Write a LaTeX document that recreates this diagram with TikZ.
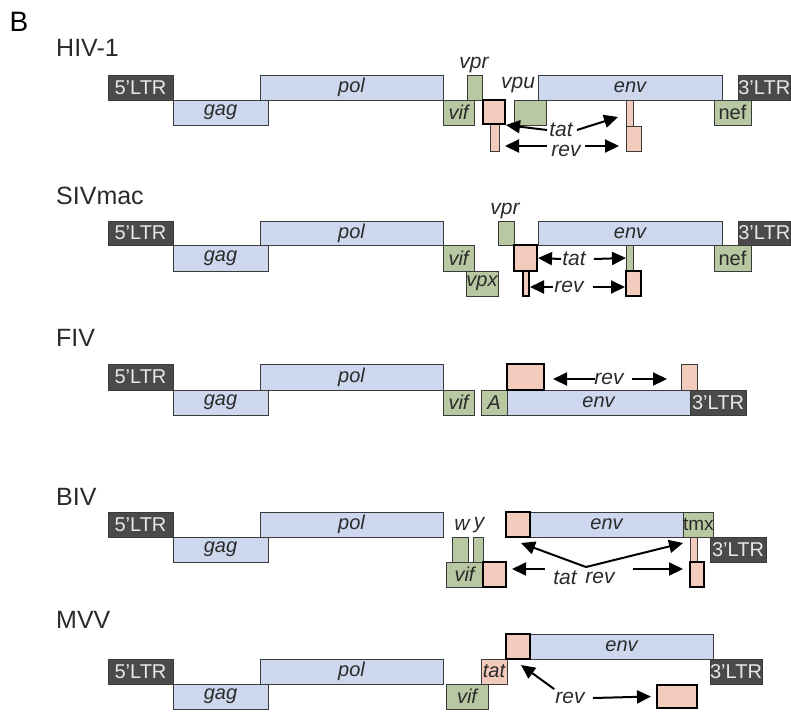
\documentclass[tikz,border=0pt]{standalone}
\usepackage{fontspec}
\setmainfont{Liberation Sans}
\usetikzlibrary{arrows.meta}
\definecolor{ltrgray}{HTML}{4A4A4A}
\definecolor{ltrtext}{HTML}{E8E8E8}
\definecolor{blu}{HTML}{CDD8EE}
\definecolor{grn}{HTML}{B8C8A2}
\definecolor{pnk}{HTML}{F3CBBD}
\definecolor{bord}{HTML}{3A3A3A}
\definecolor{txt}{HTML}{2A2A2A}
\newcommand\gb[7]{\node[#2, anchor=north west, minimum width={#5-#3}, minimum height={#6-#4}] (#1) at (#3,#4) {#7};}
\begin{document}
\begin{tikzpicture}[x=1pt,y=-1pt,
  gbase/.style={inner sep=0pt, outer sep=0pt, draw=bord, line width=0.8pt, text=txt,
    font=\fontsize{20}{20}\selectfont},
  ltrbox/.style={gbase, fill=ltrgray, text=ltrtext},
  blubox/.style={gbase, fill=blu, font=\fontsize{20}{20}\selectfont\itshape},
  grnbox/.style={gbase, fill=grn, font=\fontsize{20}{20}\selectfont\itshape},
  grnup/.style={gbase, fill=grn},
  pnkbox/.style={gbase, fill=pnk, font=\fontsize{20}{20}\selectfont\itshape},
  pnkthick/.style={gbase, fill=pnk, draw=black, line width=1.8pt},
  lbl/.style={inner sep=0pt, text=txt, font=\fontsize{21}{21}\selectfont\itshape},
  title/.style={anchor=west, inner sep=0pt, text=txt, font=\fontsize{25}{25}\selectfont},
  arr/.style={-{Triangle[length=14pt,width=13pt]}, line width=2pt, black}
]
\useasboundingbox (0,0) rectangle (791,713);
\node[inner sep=0pt, font=\fontsize{28}{28}\selectfont, text=black] (B) at (19,22) {B};

% ---------------- HIV-1
\node[title] (tHIV) at (56,48) {HIV-1};
\gb{h5}{ltrbox}{108}{75}{173}{100}{5’LTR}
\gb{hgag}{blubox}{173}{100}{268}{125}{gag}
\gb{hpol}{blubox}{260}{75}{443}{100}{pol}
\gb{hvif}{grnbox}{443}{100}{474}{125}{vif}
\gb{hvpr}{grnbox}{467}{75}{482}{100}{}
\gb{hvpu}{grnbox}{514}{100}{546}{125}{}
\gb{henv}{blubox}{538}{75}{722}{100}{env}
\gb{hnef}{grnup}{714}{100}{751}{125}{nef}
\gb{h3}{ltrbox}{738}{75}{790.5}{100}{3’LTR}
\gb{hrev1}{pnkbox}{490}{124}{499}{151}{}
\gb{htat2}{pnkbox}{626}{100}{633}{126}{}
\gb{hrev2}{pnkbox}{626}{126}{641}{151}{}
\gb{htat1}{pnkthick}{483}{100}{505}{124}{}
\node[lbl] (hvprl) at (474,65) {vpr};
\node[lbl] (hvpul) at (518,85) {vpu};
\node[lbl] (htatl) at (561,130) {tat};
\node[lbl] (hrevl) at (566,151) {rev};
\coordinate (hta) at (618,117);
\coordinate (hra) at (619,146);
\coordinate (hrb) at (505,146);
\draw[arr] ([xshift=-14pt]htatl.center) -- ([xshift=1pt,yshift=-1pt]htat1.south east);
\draw[arr] ([xshift=16pt]htatl.center) -- (hta);
\draw[arr] ([xshift=-4pt]hrevl.west |- hrb) -- (hrb);
\draw[arr] ([xshift=4pt]hrevl.east |- hra) -- (hra);

% ---------------- SIVmac
\node[title] (tSIV) at (56,196) {SIVmac};
\gb{s5}{ltrbox}{108}{221}{173}{245}{5’LTR}
\gb{sgag}{blubox}{173}{245}{268}{271}{gag}
\gb{spol}{blubox}{260}{221}{443}{245}{pol}
\gb{svif}{grnbox}{443}{245}{474}{271}{vif}
\gb{svpx}{grnbox}{466}{271}{498}{296}{vpx}
\gb{svpr}{grnbox}{498}{221}{514}{245}{}
\gb{senv}{blubox}{538}{221}{722}{245}{env}
\gb{snef}{grnup}{714}{245}{751}{271}{nef}
\gb{s3}{ltrbox}{738}{221}{790.5}{245}{3’LTR}
\gb{stat2}{grnbox}{626}{245}{633}{271}{}
\gb{stat1}{pnkthick}{514}{245}{537}{271}{}
\gb{srev1}{pnkthick}{523}{271}{529}{296}{}
\gb{srev2}{pnkthick}{626}{271}{641}{296}{}
\node[lbl] (svprl) at (505,211) {vpr};
\node[lbl] (statl) at (574,259) {tat};
\node[lbl] (srevl) at (569,287) {rev};
\draw[arr] ([xshift=-1pt]statl.west) -- ([xshift=1pt]stat1.east);
\draw[arr] ([xshift=8pt]statl.east) -- (stat2.west);
\draw[arr] ([xshift=-1pt]srevl.west) -- ([xshift=1pt]srevl.west -| srev1.east);
\draw[arr] ([xshift=9pt]srevl.east) -- ([xshift=-1pt]srevl.east -| srev2.west);

% ---------------- FIV
\node[title] (tFIV) at (56,338) {FIV};
\gb{f5}{ltrbox}{108}{364}{173}{390}{5’LTR}
\gb{fgag}{blubox}{173}{390}{268}{415}{gag}
\gb{fpol}{blubox}{260}{364}{443}{390}{pol}
\gb{fvif}{grnbox}{443}{390}{474}{415}{vif}
\gb{fA}{grnbox}{481}{390}{507}{415}{A}
\gb{fenv}{blubox}{507}{390}{690}{415}{env}
\gb{f3}{ltrbox}{690}{390}{746}{415}{3’LTR}
\gb{frev2}{pnkbox}{681}{364}{697}{390}{}
\gb{frev1}{pnkthick}{507}{364}{544}{390}{}
\node[lbl] (frevl) at (609,379) {rev};
\draw[arr] ([xshift=1pt]frevl.west) -- ([xshift=9pt]frevl.west -| frev1.east);
\draw[arr] ([xshift=8pt]frevl.east) -- ([xshift=-14pt]frevl.east -| frev2.west);

% ---------------- BIV
\node[title] (tBIV) at (56,497) {BIV};
\gb{b5}{ltrbox}{108}{512}{173}{537}{5’LTR}
\gb{bgag}{blubox}{173}{537}{268}{562}{gag}
\gb{bpol}{blubox}{260}{512}{443}{537}{pol}
\gb{bw}{grnbox}{452}{537}{468}{562}{}
\gb{by}{grnbox}{473}{537}{483}{562}{}
\gb{bvif}{grnbox}{446}{562}{483}{587}{vif}
\gb{benv}{blubox}{530}{512}{683}{537}{env}
\gb{btmx}{grnup}{683}{512}{713}{537}{\fontsize{19}{19}\selectfont tmx}
\gb{b3}{ltrbox}{710}{537}{766}{562}{3’LTR}
\gb{bp2}{pnkbox}{690}{537}{697}{562}{}
\gb{bp1}{pnkthick}{483}{562}{506}{587}{}
\gb{bp0}{pnkthick}{506}{512}{530}{537}{}
\gb{bp3}{pnkthick}{690}{562}{704}{587}{}
\node[lbl] (bwl) at (462,525) {w};
\node[lbl] (byl) at (479,525) {y};
\node[lbl] (btatl) at (565,578) {tat};
\node[lbl] (brevl) at (600,578) {rev};
\coordinate (bapex) at (586,567);
\coordinate (bvl) at (521,543);
\coordinate (bvr) at (683,543);
\coordinate (bhl) at (512,569);
\coordinate (bhr) at (683,569);
\draw[arr] (bapex) -- (bvl);
\draw[arr] (bapex) -- (bvr);
\draw[arr] (545,569) -- (bhl);
\draw[arr] (633,569) -- (bhr);

% ---------------- MVV
\node[title] (tMVV) at (56,620) {MVV};
\gb{m5}{ltrbox}{108}{659}{173}{684}{5’LTR}
\gb{mgag}{blubox}{173}{684}{268}{709}{gag}
\gb{mpol}{blubox}{260}{659}{443}{684}{pol}
\gb{mvif}{grnbox}{446}{684}{488}{709}{vif}
\gb{mtat}{pnkbox}{481}{659}{507}{684}{tat}
\gb{menv}{blubox}{530}{634}{713}{659}{env}
\gb{m3}{ltrbox}{710}{659}{762}{684}{3’LTR}
\gb{mp0}{pnkthick}{506}{634}{530}{659}{}
\gb{mrev}{pnkthick}{657}{685}{697}{708}{}
\node[lbl] (mrevl) at (570,698) {rev};
\coordinate (mtip) at (521,665);
\draw[arr] ([xshift=-1pt,yshift=3pt]mrevl.north west) -- (mtip);
\draw[arr] ([xshift=8pt]mrevl.east) -- ([xshift=-6pt]mrev.west);
\end{tikzpicture}
\end{document}
